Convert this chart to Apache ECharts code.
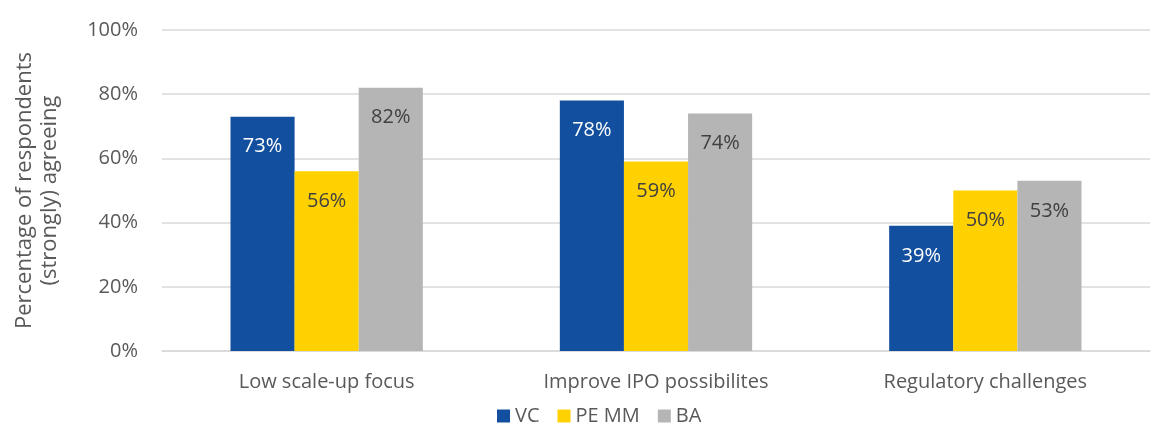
<!DOCTYPE html>
<html>
<head>
<meta charset="utf-8">
<script src="https://cdn.jsdelivr.net/npm/echarts@6/dist/echarts.min.js"></script>
<style>
  html, body { margin: 0; padding: 0; background: #fff; }
  #chart { width: 1153px; height: 425px; }
</style>
</head>
<body>
<div id="chart"></div>
<script>
var categories = ['Low scale-up focus', 'Improve IPO possibilites', 'Regulatory challenges']
var vcValues = [73, 78, 39]
var pemmValues = [56, 59, 50]
var baValues = [82, 74, 53]
var yTicks = [0, 20, 40, 60, 80, 100]

var fontFamily = '"Open Sans", "Noto Sans", sans-serif'
var textColor = '#595959'

function barSeries (name, data, color, labelColor) {
  return {
    name: name,
    type: 'bar',
    data: data,
    itemStyle: { color: color },
    label: {
      show: true,
      position: 'insideTop',
      distance: 20,
      formatter: '{c}%',
      color: labelColor,
      fontSize: 20,
      fontFamily: fontFamily
    }
  }
}

var chart = echarts.init(document.getElementById('chart'))
chart.setOption({
  animation: false,
  grid: { left: 162, right: 3, top: 30, bottom: 74, outerBoundsMode: 'none' },
  legend: {
    top: 401,
    left: 492,
    itemWidth: 13,
    itemHeight: 13,
    itemGap: 18,
    icon: 'rect',
    textStyle: { color: textColor, fontSize: 20, fontFamily: fontFamily },
    data: ['VC', 'PE MM', 'BA']
  },
  xAxis: {
    type: 'category',
    data: categories,
    axisTick: { show: false },
    axisLine: { lineStyle: { color: '#d9d9d9', width: 1.5 } },
    axisLabel: { color: textColor, fontSize: 20, fontFamily: fontFamily, margin: 21 }
  },
  yAxis: {
    type: 'value',
    min: yTicks[0],
    max: yTicks[yTicks.length - 1],
    interval: 20,
    name: 'Percentage of respondents\n(strongly) agreeing',
    nameLocation: 'middle',
    nameGap: 100,
    nameTextStyle: { color: textColor, fontSize: 22, fontFamily: fontFamily, lineHeight: 25 },
    axisLabel: { formatter: '{value}%', color: textColor, fontSize: 20, fontFamily: fontFamily, margin: 24 },
    splitLine: { lineStyle: { color: '#d9d9d9', width: 1.5 } }
  },
  series: [
    Object.assign(barSeries('VC', vcValues, '#12509f', '#ffffff'), { barCategoryGap: '41.6%', barGap: '0%' }),
    Object.assign(barSeries('PE MM', pemmValues, '#ffd100', '#404040'), { barGap: '0%' }),
    Object.assign(barSeries('BA', baValues, '#b5b5b5', '#404040'), { barGap: '0%' })
  ]
})
</script>
</body>
</html>
